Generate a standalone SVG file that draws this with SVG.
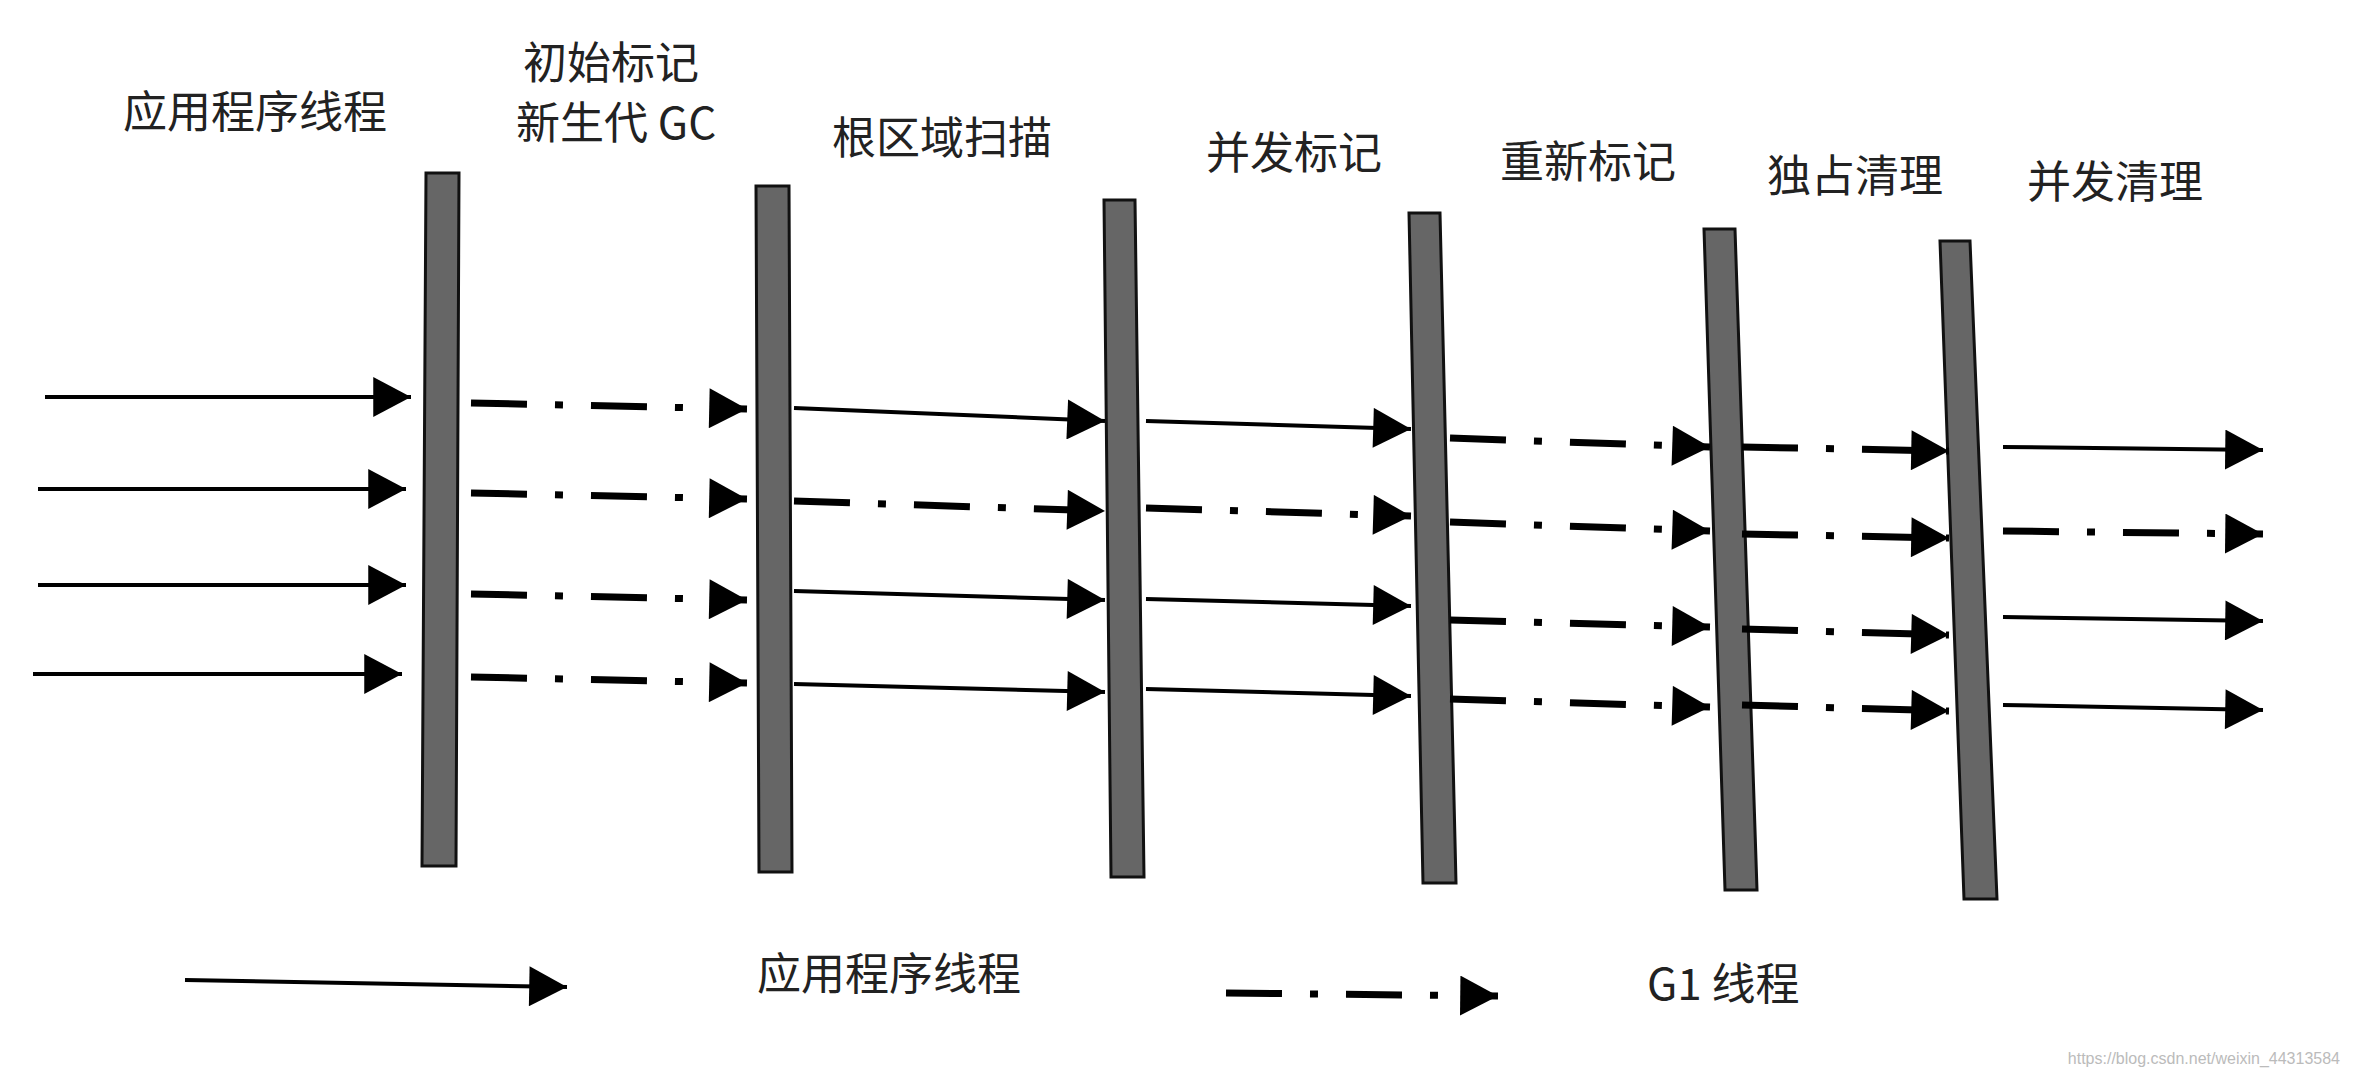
<svg xmlns="http://www.w3.org/2000/svg" width="2358" height="1080" viewBox="0 0 2358 1080">
<style>
text{font-family:"Noto Sans CJK SC","Liberation Serif",serif;font-size:44px;fill:#222}
.bar{fill:#666;stroke:#111;stroke-width:3}
.s{stroke:#000;stroke-width:4;fill:none;marker-end:url(#ah)}
.d{stroke:#000;stroke-width:7;fill:none;stroke-dasharray:56 28 8 28;marker-end:url(#ah2)}
</style>
<defs>
<marker id="ah" markerUnits="userSpaceOnUse" markerWidth="40" markerHeight="40" viewBox="0 0 34 36" refX="34" refY="18" orient="auto"><path d="M0,0L34,18L0,36z" fill="#000"/></marker>
<marker id="ah2" markerUnits="userSpaceOnUse" markerWidth="40" markerHeight="40" viewBox="0 0 34 36" refX="34" refY="18" orient="auto"><path d="M0,0L34,18L0,36z" fill="#000"/></marker>
</defs>
<rect width="2358" height="1080" fill="#fff"/>
<g id="labels">
<text x="123" y="128">应用程序线程</text>
<text x="523" y="79">初始标记</text>
<text x="516" y="139">新生代 GC</text>
<text x="832" y="154">根区域扫描</text>
<text x="1206" y="169">并发标记</text>
<text x="1500" y="178">重新标记</text>
<text x="1767" y="192">独占清理</text>
<text x="2027" y="198">并发清理</text>
</g>
<g id="bar1"><polygon class="bar" points="426,173 459,173 456,866 422,866"/></g>
<g id="bar2"><polygon class="bar" points="756,186 789,186 792,872 759,872"/></g>
<g id="bar3"><polygon class="bar" points="1104,200 1135,200 1144,877 1111,877"/></g>
<g id="bar4"><polygon class="bar" points="1409,213 1440,213 1456,883 1423,883"/></g>
<g id="bar5"><polygon class="bar" points="1704,229 1735,229 1757,890 1725,890"/></g>
<g id="bar6"><polygon class="bar" points="1940,241 1970,241 1997,899 1964,899"/></g>
<g id="connectors">
<path class="s" d="M45,397L411,397"/><path class="s" d="M38,489L406,489"/><path class="s" d="M38,585L406,585"/><path class="s" d="M33,674L402,674"/>
<path class="d" d="M471,403L747,409"/><path class="d" d="M471,493L747,499"/><path class="d" d="M471,594L747,600"/><path class="d" d="M471,677L747,683"/>
<path class="s" d="M794,408L1105,421"/><path class="d" d="M794,501L1105,511"/><path class="s" d="M794,591L1105,600"/><path class="s" d="M794,684L1105,692"/>
<path class="s" d="M1146,421L1411,429"/><path class="d" d="M1146,508L1411,516"/><path class="s" d="M1146,599L1411,606"/><path class="s" d="M1146,689L1411,696"/>
<path class="d" d="M1450,438L1710,447"/><path class="d" d="M1450,522L1710,531"/><path class="d" d="M1450,620L1710,627"/><path class="d" d="M1450,699L1710,707"/>
<path class="d" d="M1742,447L1949,451"/><path class="d" d="M1742,534L1949,538"/><path class="d" d="M1742,629L1949,635"/><path class="d" d="M1742,705L1949,711"/>
<path class="s" d="M2003,447L2263,450"/><path class="d" d="M2003,531L2263,534"/><path class="s" d="M2003,617L2263,621"/><path class="s" d="M2003,705L2263,710"/>
</g>
<g id="legend">
<path class="s" d="M185,980L567,987"/>
<text x="757" y="990">应用程序线程</text>
<path class="d" d="M1226,993L1498,996"/>
<text x="1647" y="1000">G1 线程</text>
</g>
<text x="2340" y="1064" text-anchor="end" style="font-family:'Liberation Sans',sans-serif;font-size:16px;fill:#bbb">https://blog.csdn.net/weixin_44313584</text>
</svg>
